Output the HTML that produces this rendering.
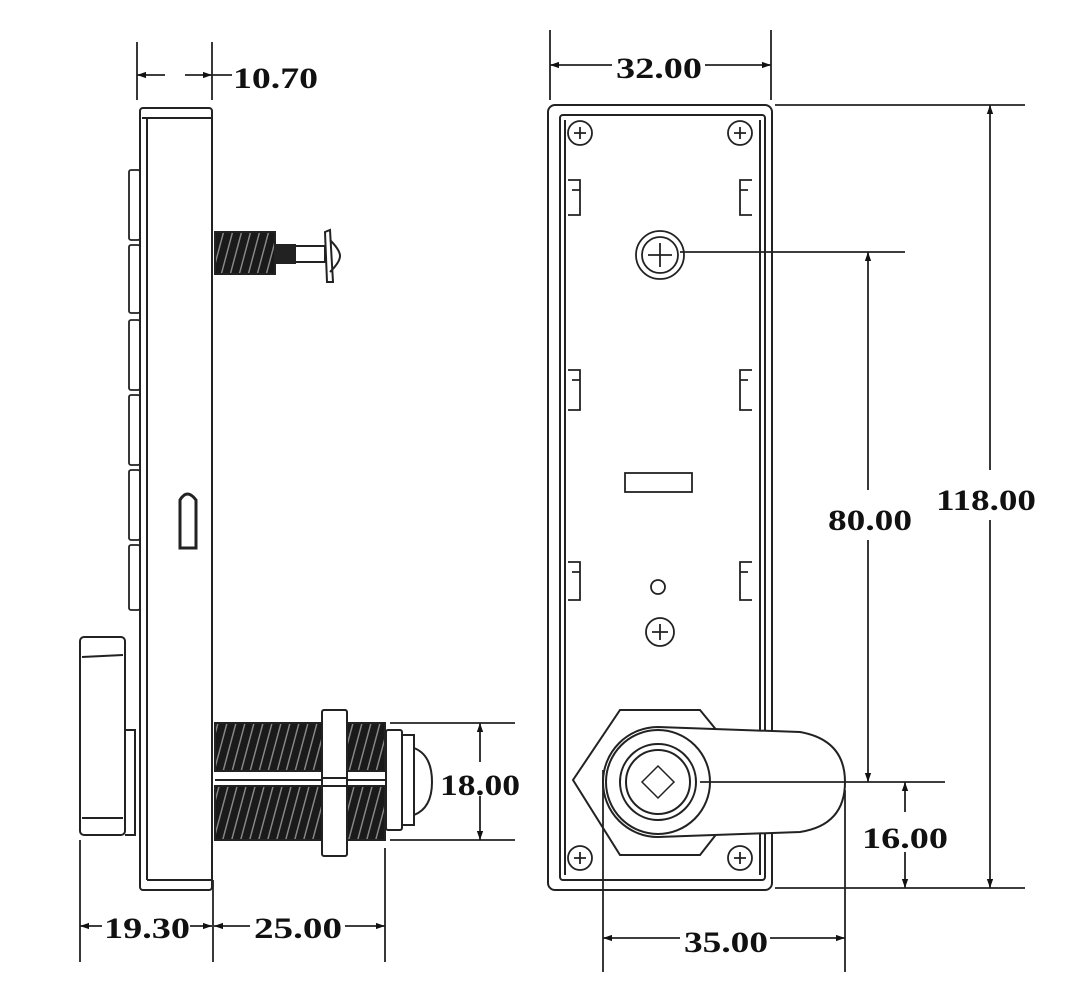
<!DOCTYPE html>
<html><head><meta charset="utf-8"><style>html,body{margin:0;padding:0;background:#fff}svg{display:block}text{font-family:"Liberation Serif",serif;font-weight:bold;font-size:30px;fill:#111}</style></head><body>
<svg width="1067" height="984" viewBox="0 0 1067 984" xmlns="http://www.w3.org/2000/svg">
<defs>
<marker id="a" viewBox="0 0 10 10" refX="10" refY="5" markerWidth="18" markerHeight="9" orient="auto-start-reverse" markerUnits="userSpaceOnUse"><path d="M0,1.5 L10,5 L0,8.5z" fill="#111"/></marker>
<pattern id="th" width="9" height="10" patternUnits="userSpaceOnUse" patternTransform="skewX(-15)"><rect width="9" height="10" fill="#1a1a1a"/><rect x="6" width="1.5" height="10" fill="#888"/></pattern>
</defs>
<g fill="none" stroke="#222" stroke-width="2">
<rect x="140" y="108" width="72" height="782" rx="3"/>
<line x1="147" y1="118" x2="147" y2="880"/>
<line x1="142" y1="118" x2="212" y2="118"/>
<line x1="147" y1="880" x2="212" y2="880"/>
<g stroke-width="1.8">
<rect x="129" y="170" width="11" height="70" rx="2"/>
<rect x="129" y="245" width="11" height="68" rx="2"/>
<rect x="129" y="320" width="11" height="70" rx="2"/>
<rect x="129" y="395" width="11" height="70" rx="2"/>
<rect x="129" y="470" width="11" height="70" rx="2"/>
<rect x="129" y="545" width="11" height="65" rx="2"/>
</g>
<path d="M180,548 L180,500 Q187,488 196,500 L196,548 Z" stroke-width="3"/>
<rect x="80" y="637" width="45" height="198" rx="4"/>
<line x1="82" y1="657" x2="123" y2="655"/>
<line x1="82" y1="818" x2="123" y2="818"/>
<path d="M125,730 L135,730 L135,835 L125,835"/>
<rect x="215" y="232" width="60" height="42" fill="url(#th)" stroke="#222"/>
<rect x="275" y="245" width="20" height="18" fill="#222"/>
<rect x="295" y="246" width="30" height="16"/>
<path d="M325,232 L330,230 L333,282 L327,282 Z M330,240 Q340,250 340,256 Q340,262 330,272"/>
<rect x="215" y="723" width="170" height="48" fill="url(#th)"/>
<rect x="215" y="786" width="170" height="54" fill="url(#th)"/>
<line x1="215" y1="780" x2="390" y2="780"/>
<rect x="322" y="710" width="25" height="146" rx="2" fill="#fff"/>
<line x1="322" y1="778" x2="347" y2="778"/>
<line x1="322" y1="786" x2="347" y2="786"/>
<rect x="386" y="730" width="16" height="100" rx="2" fill="#fff"/>
<rect x="402" y="735" width="12" height="90" fill="#fff"/>
<path d="M414,748 Q432,755 432,782 Q432,808 414,815"/>
<g stroke-width="1.8">
<line x1="137" y1="42" x2="137" y2="100"/><line x1="212" y1="42" x2="212" y2="100"/>
<line x1="137" y1="75" x2="165" y2="75" marker-start="url(#a)"/>
<line x1="185" y1="75" x2="212" y2="75" marker-end="url(#a)"/>
<line x1="212" y1="75" x2="232" y2="75"/>
<line x1="390" y1="723" x2="515" y2="723"/><line x1="390" y1="840" x2="515" y2="840"/>
<line x1="480" y1="723" x2="480" y2="762" marker-start="url(#a)"/>
<line x1="480" y1="796" x2="480" y2="840" marker-end="url(#a)"/>
<line x1="80" y1="840" x2="80" y2="962"/><line x1="213" y1="880" x2="213" y2="962"/><line x1="385" y1="848" x2="385" y2="962"/>
<line x1="80" y1="926" x2="102" y2="926" marker-start="url(#a)"/>
<line x1="190" y1="926" x2="212" y2="926" marker-end="url(#a)"/>
<line x1="214" y1="926" x2="250" y2="926" marker-start="url(#a)"/>
<line x1="345" y1="926" x2="385" y2="926" marker-end="url(#a)"/>
</g>
<rect x="548" y="105" width="224" height="785" rx="7"/>
<rect x="560" y="115" width="205" height="765" rx="3"/>
<line x1="565" y1="120" x2="565" y2="875"/>
<line x1="760" y1="120" x2="760" y2="875"/>
<g stroke-width="1.8">
<circle cx="580" cy="133" r="12"/><circle cx="740" cy="133" r="12"/>
<circle cx="580" cy="858" r="12"/><circle cx="740" cy="858" r="12"/>
<path d="M574,133h12M580,127v12M734,133h12M740,127v12M574,858h12M580,852v12M734,858h12M740,852v12"/>
<path d="M568,180h12v35h-12M572,190h8v20M752,180h-12v35h12M748,190h-8v20"/>
<path d="M568,370h12v40h-12M572,380h8v22M752,370h-12v40h12M748,380h-8v22"/>
<path d="M568,562h12v38h-12M572,572h8v20M752,562h-12v38h12M748,572h-8v20"/>
<circle cx="660" cy="255" r="24"/><circle cx="660" cy="255" r="18"/>
<path d="M648,255h24M660,243v24"/>
<rect x="625" y="473" width="67" height="19"/>
<circle cx="658" cy="587" r="7"/>
<circle cx="660" cy="632" r="14"/><path d="M652,632h16M660,624v16"/>
</g>
<path d="M620,710 L700,710 L718,732 L718,832 L700,855 L620,855 L573,780 Z" fill="#fff"/>
<path d="M658,727 L800,732 Q845,740 845,782 Q845,825 800,832 L658,837 A55,55 0 0 1 658,727 Z" fill="#fff"/>
<circle cx="658" cy="782" r="52"/>
<circle cx="658" cy="782" r="38"/><circle cx="658" cy="782" r="32"/>
<path d="M658,766 L674,782 L658,798 L642,782 Z" stroke-width="1.5"/>
<g stroke-width="1.8">
<line x1="550" y1="30" x2="550" y2="100"/><line x1="771" y1="30" x2="771" y2="100"/>
<line x1="550" y1="65" x2="612" y2="65" marker-start="url(#a)"/>
<line x1="705" y1="65" x2="771" y2="65" marker-end="url(#a)"/>
<line x1="775" y1="105" x2="1025" y2="105"/><line x1="775" y1="888" x2="1025" y2="888"/>
<line x1="990" y1="105" x2="990" y2="470" marker-start="url(#a)"/>
<line x1="990" y1="520" x2="990" y2="888" marker-end="url(#a)"/>
<line x1="680" y1="252" x2="905" y2="252"/>
<line x1="700" y1="782" x2="945" y2="782"/>
<line x1="868" y1="252" x2="868" y2="490" marker-start="url(#a)"/>
<line x1="868" y1="540" x2="868" y2="782" marker-end="url(#a)"/>
<line x1="905" y1="782" x2="905" y2="812" marker-start="url(#a)"/>
<line x1="905" y1="852" x2="905" y2="888" marker-end="url(#a)"/>
<line x1="603" y1="770" x2="603" y2="972"/><line x1="845" y1="790" x2="845" y2="972"/>
<line x1="603" y1="938" x2="680" y2="938" marker-start="url(#a)"/>
<line x1="770" y1="938" x2="845" y2="938" marker-end="url(#a)"/>
</g>
</g>
<text x="233" y="88" textLength="85" lengthAdjust="spacingAndGlyphs">10.70</text>
<text x="440" y="795" textLength="80" lengthAdjust="spacingAndGlyphs">18.00</text>
<text x="104" y="938" textLength="86" lengthAdjust="spacingAndGlyphs">19.30</text>
<text x="254" y="938" textLength="88" lengthAdjust="spacingAndGlyphs">25.00</text>
<text x="616" y="78" textLength="86" lengthAdjust="spacingAndGlyphs">32.00</text>
<text x="936" y="510" textLength="100" lengthAdjust="spacingAndGlyphs">118.00</text>
<text x="828" y="530" textLength="84" lengthAdjust="spacingAndGlyphs">80.00</text>
<text x="862" y="848" textLength="86" lengthAdjust="spacingAndGlyphs">16.00</text>
<text x="684" y="952" textLength="84" lengthAdjust="spacingAndGlyphs">35.00</text>
</svg>
</body></html>
